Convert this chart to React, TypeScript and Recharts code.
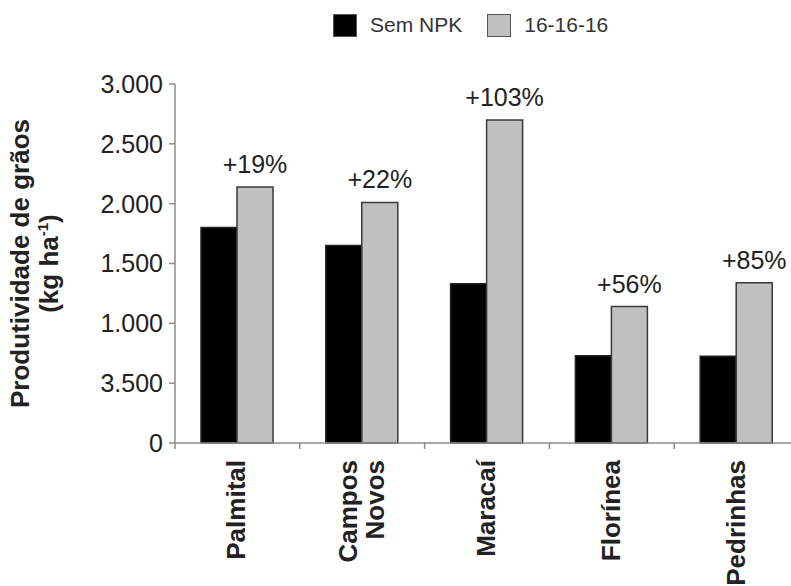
import { BarChart, Bar, XAxis, YAxis, Legend, LabelList } from 'recharts'

const cities = ['Palmital', 'Campos Novos', 'Maracaí', 'Florínea', 'Pedrinhas']
const semNpk = [1800, 1650, 1330, 730, 725]
const npk161616 = [2140, 2010, 2700, 1140, 1340]
const gains = ['+19%', '+22%', '+103%', '+56%', '+85%']
const yTicks = [0, 500, 1000, 1500, 2000, 2500, 3000]
const yTickLabels = ['0', '3.500', '1.000', '1.500', '2.000', '2.500', '3.000']
const seriesNames = ['Sem NPK', '16-16-16']

const data = cities.map((city, i) => ({
  city,
  semNpk: semNpk[i],
  npk: npk161616[i],
  gain: gains[i],
}))

const FONT = '"Liberation Sans", Arial, Helvetica, sans-serif'
const AXIS = '#8c8c8c'
const TEXT = '#222'
const BLACK = '#000'
const GRAY = '#c0c0c0'
const PLOT_W = 624

function CityTick({ x, y, payload }: any) {
  const lines = String(payload.value).split(' ')
  const half = PLOT_W / cities.length / 2
  const lineH = 27
  const start = -((lines.length - 1) * lineH) / 2
  return (
    <g>
      <line x1={x - half} x2={x - half} y1={y} y2={y + 6} stroke={AXIS} strokeWidth={1.5} />
      {lines.map((l, i) => (
        <text
          key={l}
          transform={`translate(${x + 8 + start + i * lineH}, ${y + 17}) rotate(-90)`}
          textAnchor="end"
          fontSize={26}
          fontWeight="bold"
          fontFamily={FONT}
          fill={TEXT}
        >
          {l}
        </text>
      ))}
    </g>
  )
}

function YTitle({ viewBox }: any) {
  const cy = viewBox.y + viewBox.height / 2
  const common = {
    textAnchor: 'middle' as const,
    fontSize: 26,
    fontWeight: 'bold',
    fontFamily: FONT,
    fill: TEXT,
  }
  return (
    <g>
      <text transform={`translate(29, ${cy}) rotate(-90)`} {...common}>
        Produtividade de grãos
      </text>
      <text transform={`translate(58, ${cy}) rotate(-90)`} {...common}>
        <tspan>(kg ha</tspan>
        <tspan dy={-10} fontSize={15}>-1</tspan>
        <tspan dy={10}>)</tspan>
      </text>
    </g>
  )
}

function LegendBox() {
  const fills = [BLACK, GRAY]
  return (
    <div style={{ display: 'flex', alignItems: 'center', fontFamily: FONT, fontSize: 21, color: '#333' }}>
      {seriesNames.map((name, i) => (
        <div key={name} style={{ display: 'flex', alignItems: 'center', marginRight: 25 }}>
          <div
            style={{
              width: 22,
              height: 21,
              background: fills[i],
              border: '1px solid #555',
              marginRight: 13,
            }}
          />
          <span>{name}</span>
        </div>
      ))}
    </div>
  )
}

export default function App() {
  return (
    <div
      style={{
        position: 'absolute',
        left: 0,
        top: 0,
        width: 791,
        height: 586,
        overflow: 'hidden',
        background: '#fff',
      }}
    >
      <BarChart
        width={791}
        height={586}
        data={data}
        margin={{ top: 84, right: -8, left: 115, bottom: 13 }}
        barGap={0}
        barSize={36}
      >
        <Legend
          verticalAlign="middle"
          align="center"
          layout="horizontal"
          content={<LegendBox />}
          wrapperStyle={{ top: 13, left: 333, width: 320, height: 26 }}
        />
        <XAxis
          dataKey="city"
          height={130}
          interval={0}
          tickSize={0}
          tickMargin={0}
          axisLine={{ stroke: AXIS, strokeWidth: 1.5 }}
          tickLine={false}
          tick={<CityTick />}
        />
        <YAxis
          width={60}
          domain={[0, 3000]}
          ticks={yTicks}
          interval={0}
          tickFormatter={(v: number) => yTickLabels[yTicks.indexOf(v)]}
          tickSize={6}
          tickMargin={6}
          axisLine={{ stroke: AXIS, strokeWidth: 1.5 }}
          tickLine={{ stroke: AXIS, strokeWidth: 1.5 }}
          tick={{ fill: TEXT, fontSize: 25, fontFamily: FONT }}
          label={{ content: <YTitle /> }}
        />
        <Bar dataKey="semNpk" name={seriesNames[0]} fill={BLACK} stroke="#222" strokeWidth={1.5} isAnimationActive={false} />
        <Bar dataKey="npk" name={seriesNames[1]} fill={GRAY} stroke="#3a3a3a" strokeWidth={1.5} isAnimationActive={false}>
          <LabelList dataKey="gain" position="top" offset={14} fill={TEXT} fontSize={25} fontFamily={FONT} />
        </Bar>
      </BarChart>
    </div>
  )
}
